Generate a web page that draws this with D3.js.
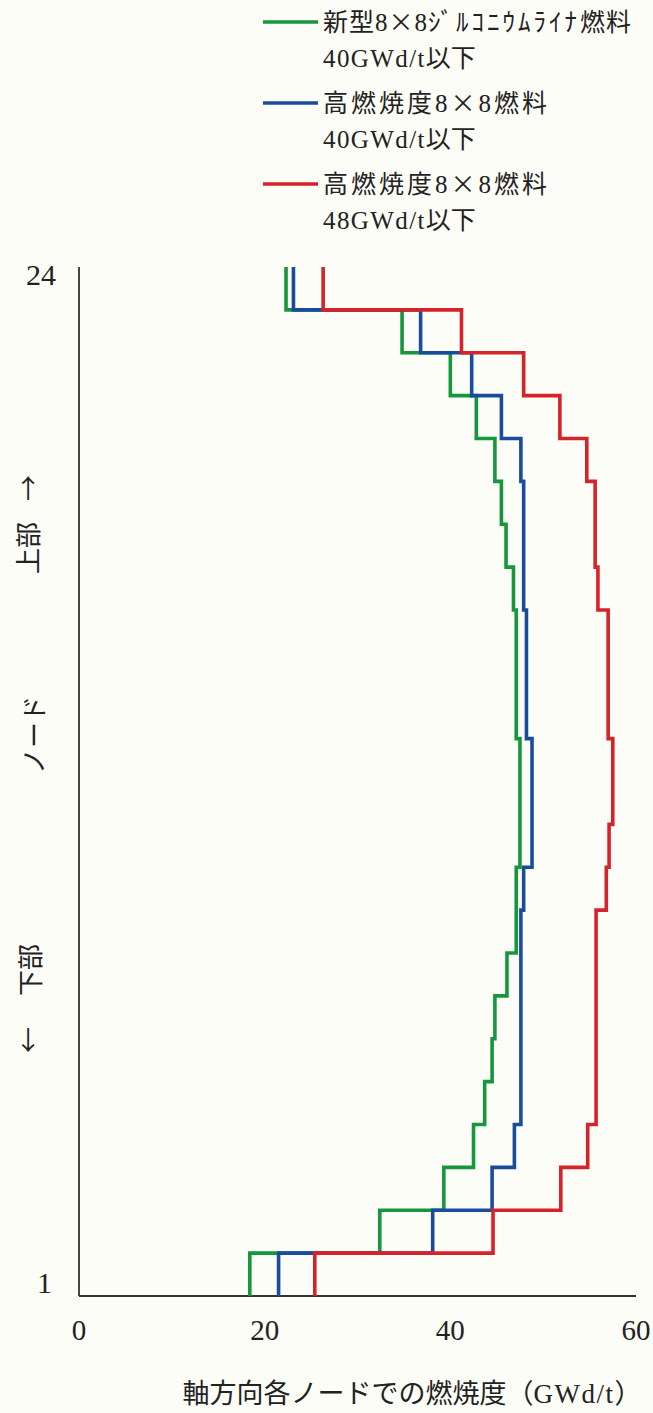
<!DOCTYPE html>
<html lang="ja">
<head>
<meta charset="utf-8">
<script src="https://cdn.jsdelivr.net/npm/d3@7/dist/d3.min.js"></script>
<style>
  html, body { margin: 0; padding: 0; background: #fdfdf7; }
  svg { display: block; }
  .lat { font-family: "Liberation Serif", "Noto Sans CJK JP", serif; }
  .jp { font-family: "Noto Sans CJK JP", sans-serif; }
</style>
</head>
<body>
<svg id="chart" width="653" height="1413"></svg>
<script>
// axial burnup per node (GWd/t), node 1 (bottom) .. node 24 (top)
const nodes = d3.range(1, 25);
const greenVals = [18.4, 32.4, 39.3, 42.5, 43.7, 44.5, 44.8, 46.1, 47.1, 47.1, 47.5, 47.5,
                   47.5, 47.1, 47.1, 47.1, 46.8, 46.0, 45.5, 44.8, 42.8, 40.0, 34.8, 22.3];
const blueVals  = [21.5, 38.1, 44.5, 46.9, 47.6, 47.6, 47.6, 47.6, 47.6, 47.9, 48.8, 48.8,
                   48.8, 48.2, 48.2, 48.2, 47.9, 47.9, 47.9, 47.6, 45.5, 42.3, 36.8, 23.1];
const redVals   = [25.4, 44.6, 51.9, 54.8, 55.7, 55.7, 55.7, 55.7, 55.7, 56.8, 57.1, 57.5,
                   57.5, 57.0, 57.0, 57.0, 55.9, 55.6, 55.6, 54.7, 51.8, 47.9, 41.2, 26.3];
const seriesNames = [["新型", "8", "×", "8", "ｼﾞﾙｺﾆｳﾑﾗｲﾅ", "燃料"], ["高燃焼度", "8", "×", "8", "", "燃料"], ["高燃焼度", "8", "×", "8", "", "燃料"]];
const seriesSub = [["40GWd/t", "以下"], ["40GWd/t", "以下"], ["48GWd/t", "以下"]];
const seriesColors = ["#16973d", "#1a4c9e", "#d6222a"];
const xTicks = [0, 20, 40, 60];

const series = [greenVals, blueVals, redVals];
const svg = d3.select('#chart');
const x = d3.scaleLinear().domain([0, 60]).range([79, 636]);
const y = d3.scaleLinear().domain([0, 24]).range([1296, 267]);

// axes (plain lines, no tick marks)
svg.append('line').attr('x1', x(0)).attr('x2', x(0)).attr('y1', y(24)).attr('y2', y(0))
  .attr('stroke', '#333').attr('stroke-width', 1.8);
svg.append('line').attr('x1', x(0)).attr('x2', x(60)).attr('y1', y(0)).attr('y2', y(0))
  .attr('stroke', '#333').attr('stroke-width', 1.8);

svg.selectAll('text.xt').data(xTicks).enter().append('text').attr('class', 'xt lat')
  .attr('x', d => x(d)).attr('y', y(0) + 44).attr('text-anchor', 'middle')
  .attr('font-size', 29).attr('fill', '#222').text(d => d);
svg.append('text').attr('class', 'lat').attr('x', 56).attr('y', y(24) + 18).attr('text-anchor', 'end')
  .attr('font-size', 30).attr('fill', '#222').text('24');
svg.append('text').attr('class', 'lat').attr('x', 52).attr('y', y(0) - 3).attr('text-anchor', 'end')
  .attr('font-size', 30).attr('fill', '#222').text('1');

// x title
const xt = svg.append('text').attr('x', 412).attr('y', 1403).attr('text-anchor', 'middle')
  .attr('font-size', 27).attr('fill', '#222');
xt.append('tspan').attr('class', 'jp').text('軸方向各ノードでの燃焼度（');
xt.append('tspan').attr('class', 'lat').attr('letter-spacing', 1.5).text('GWd/t');
xt.append('tspan').attr('class', 'jp').text('）');

// y title, rotated pieces
const yLab = [['→', 488, 38], ['上部', 548, 38], ['ノード', 735, 44], ['下部', 970, 40], ['←', 1040, 38]];
svg.selectAll('text.yl').data(yLab).enter().append('text').attr('class', 'yl jp')
  .attr('transform', d => `translate(${d[2]},${d[1]}) rotate(-90)`).attr('text-anchor', 'middle')
  .attr('font-size', 26).attr('fill', '#222').text(d => d[0]);

// step lines
const line = d3.line().x(d => x(d.v)).y(d => y(d.n));
series.forEach((vals, i) => {
  const pts = [];
  for (let k = nodes.length - 1; k >= 0; k--) {
    pts.push({ v: vals[k], n: nodes[k] }, { v: vals[k], n: nodes[k] - 1 });
  }
  svg.append('path').attr('d', line(pts)).attr('fill', 'none')
    .attr('stroke', seriesColors[i]).attr('stroke-width', 3.6).attr('stroke-linejoin', 'miter');
});

// legend
const lg = svg.append('g');
seriesColors.forEach((c, i) => {
  const cy = 22 + i * 81;
  lg.append('line').attr('x1', 263).attr('x2', 318).attr('y1', cy).attr('y2', cy)
    .attr('stroke', c).attr('stroke-width', 3.6);
  const t1 = lg.append('text').attr('x', 323).attr('y', cy + 9).attr('font-size', 25)
    .attr('fill', '#222').attr('letter-spacing', i === 0 ? 1 : 3);
  seriesNames[i].forEach((s, j) => {
    if (!s) return;
    t1.append('tspan').attr('class', (j === 1 || j === 3) ? 'lat' : 'jp')
      .attr('letter-spacing', j === 4 ? 3 : null).text(s);
  });
  const t2 = lg.append('text').attr('x', 323).attr('y', cy + 45).attr('font-size', 25).attr('fill', '#222');
  t2.append('tspan').attr('class', 'lat').attr('letter-spacing', 1.4).text(seriesSub[i][0]);
  t2.append('tspan').attr('class', 'jp').text(seriesSub[i][1]);
});
</script>
</body>
</html>
